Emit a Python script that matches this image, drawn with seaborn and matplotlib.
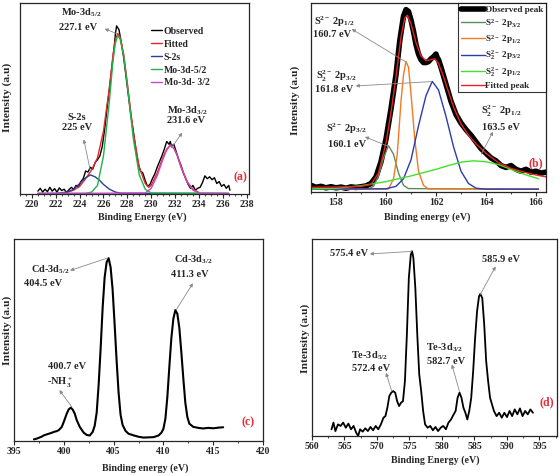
import matplotlib
matplotlib.use('Agg')
import matplotlib.pyplot as plt
import seaborn as sns

# Panel (a): Mo-3d / S-2s region
a_obs_x = [220.5, 220.7, 220.9, 221.1, 221.3, 221.5, 221.7, 221.9, 222.1, 222.3, 222.5, 222.7, 222.9, 223.1,
           223.3, 223.5, 223.7, 223.9, 224.1, 224.3, 224.5, 224.7, 224.9, 225.1, 225.3, 225.5, 225.7, 225.9,
           226.1, 226.3, 226.5, 226.7, 226.9, 227.0, 227.1, 227.2, 227.3, 227.5, 227.7, 227.9, 228.1, 228.3,
           228.5, 228.7, 228.9, 229.1, 229.3, 229.5, 229.7, 229.9, 230.1, 230.3, 230.5, 230.7, 230.9, 231.1,
           231.3, 231.5, 231.6, 231.7, 231.9, 232.1, 232.3, 232.5, 232.7, 232.9, 233.1, 233.3, 233.5, 233.7,
           233.9, 234.1, 234.3, 234.5, 234.7, 234.9, 235.1, 235.3, 235.5, 235.7, 235.9, 236.1, 236.3, 236.5, 236.6]
a_obs_y = [1.5, 3, 1, 2.5, 1.2, 3.5, 1.5, 2.8, 1, 3.2, 1.8, 2.5, 0.8, 2.2,
           3.5, 2.5, 4.5, 3.8, 6.5, 8, 12, 11.5, 14, 13, 16.5, 18, 20, 25,
           34, 45, 55, 66, 77, 84, 88, 87, 86, 79, 71, 61, 51, 41,
           33, 24, 16, 12, 11, 7, 4, 5, 8, 10.5, 14, 17, 20, 23.5,
           27.5, 26, 27.5, 25, 26, 22, 18, 15, 11, 8, 5, 3, 4.5, 2,
           3, 3.5, 6, 9.5, 8, 9, 7.5, 8.5, 5.5, 6.5, 4, 5, 3, 4.5, 2]
a_fit_x = [223.0, 223.5, 224.0, 224.5, 225.0, 225.5, 226.0, 226.5, 226.8, 227.0, 227.2, 227.4, 227.7, 228.0,
           228.5, 229.0, 229.5, 229.8, 230.0, 230.5, 231.0, 231.3, 231.6, 231.9, 232.2, 232.5, 233.0, 233.5, 234.0]
a_fit_y = [1, 2, 4, 8, 12.5, 19, 33, 56, 73, 81, 84, 82, 73, 58,
           32, 14, 5.5, 3.5, 4.5, 11, 19.5, 23.5, 25.5, 24, 20, 14, 6.5, 2.5, 0.8]
a_s2s_x = [220.5, 222.0, 223.0, 223.5, 224.0, 224.5, 224.9, 225.3, 225.7, 226.0, 226.5, 227.0, 227.5, 236.5]
a_s2s_y = [0.3, 0.3, 1, 2.5, 5.5, 8.5, 10, 9, 7, 5, 2.5, 1, 0.4, 0.3]
a_mo52_x = [220.5, 224.5, 225.0, 225.5, 226.0, 226.5, 226.8, 227.0, 227.2, 227.4, 227.7, 228.0, 228.5,
            229.0, 229.5, 230.0, 236.5]
a_mo52_y = [0.3, 0.3, 1, 4.5, 20, 49, 70, 79, 83, 81, 72, 57, 29, 10, 2.5, 0.5, 0.3]
a_mo32_x = [220.5, 229.5, 230.0, 230.5, 231.0, 231.3, 231.6, 231.9, 232.2, 232.5, 233.0, 233.5, 234.0, 236.5]
a_mo32_y = [0.3, 0.5, 3, 9.5, 18.5, 23, 25.5, 24, 20, 14.5, 6.5, 2, 0.5, 0.3]

# Panel (b): S-2p region
b_obs_x = [157.0, 157.2, 157.4, 157.6, 157.8, 158.0, 158.2, 158.4, 158.6, 158.8, 159.0, 159.2, 159.4, 159.6,
           159.8, 160.0, 160.2, 160.4, 160.55, 160.7, 160.8, 160.9, 161.0, 161.1, 161.2, 161.3, 161.4, 161.5,
           161.6, 161.7, 161.8, 161.9, 162.0, 162.05, 162.1, 162.2, 162.4, 162.6, 162.8, 163.0, 163.2, 163.4,
           163.6, 163.8, 164.0, 164.2, 164.4, 164.6, 164.8, 165.0, 165.2, 165.4, 165.6, 165.8, 166.0, 166.2, 166.4]
b_obs_y = [3.5, 2.5, 3, 2.2, 2.8, 2.2, 2.6, 2, 2.7, 2.4, 2.8, 3.2, 4.5, 8,
           16, 28, 44, 62, 80, 93, 96.5, 95.5, 91, 85, 78, 73, 70, 68.5,
           68.5, 69, 70.5, 71.5, 73, 71, 70, 66, 57, 48, 41, 36.5, 33, 30,
           26.5, 23, 20.5, 18, 16.5, 14, 13, 14, 12, 11, 12, 10.5, 11, 10, 10.5]
b_fit_x = [157.0, 158.0, 159.0, 159.4, 159.7, 160.0, 160.2, 160.4, 160.6, 160.75, 160.85, 161.0, 161.2, 161.4,
           161.6, 161.8, 161.95, 162.1, 162.3, 162.5, 162.7, 163.0, 163.3, 163.6, 164.0, 164.5, 165.0, 165.5,
           166.0, 166.4]
b_fit_y = [2.5, 2.6, 3, 4, 10, 26, 42, 61, 82, 92, 93.5, 89, 79, 72,
           69.5, 70, 70.5, 68, 61, 53, 45, 36, 30, 25.5, 20.5, 15.5, 12.5, 10.6, 9, 8]
b_s_p32_x = [157.0, 159.3, 159.5, 159.7, 159.9, 160.1, 160.3, 160.5, 160.7, 160.9, 166.1]
b_s_p32_y = [1.5, 1.6, 3, 8.5, 18, 24.5, 20, 10, 3.5, 1.8, 1.5]
b_s_p12_x = [157.0, 160.1, 160.3, 160.45, 160.6, 160.7, 160.8, 160.9, 161.0, 161.15, 161.3, 161.5, 161.7, 166.1]
b_s_p12_y = [1.5, 1.6, 7, 20, 48, 62, 69, 66, 52, 28, 11, 3.5, 1.6, 1.5]
b_s2_p32_x = [157.0, 160.0, 160.4, 160.7, 161.0, 161.3, 161.6, 161.85, 162.1, 162.4, 162.7, 163.0, 163.3,
              163.6, 164.0, 166.1]
b_s2_p32_y = [1.5, 1.7, 3, 7, 17, 35, 51, 58.5, 54, 40, 24, 11, 4.5, 2, 1.5, 1.5]
b_s2_p12_x = [157.0, 158.0, 159.0, 160.0, 161.0, 162.0, 162.5, 163.0, 163.5, 164.0, 164.5, 165.0, 165.5, 166.1]
b_s2_p12_y = [1.6, 2, 3.3, 5.5, 8.5, 12, 14, 15.8, 16.5, 16, 14.5, 12, 9.5, 7]

# Panel (c): Cd-3d region
c_x = [397.0, 397.3, 397.5, 397.8, 398.0, 398.3, 398.5, 398.8, 399.0, 399.3, 399.5, 399.8, 400.0, 400.3,
       400.5, 400.7, 400.9, 401.1, 401.3, 401.6, 402.0, 402.3, 402.6, 402.9, 403.1, 403.3, 403.5, 403.7,
       403.9, 404.1, 404.3, 404.5, 404.7, 404.9, 405.1, 405.3, 405.5, 405.7, 405.9, 406.2, 406.5, 407.0,
       407.5, 408.0, 408.5, 409.0, 409.5, 409.8, 410.0, 410.2, 410.4, 410.6, 410.8, 411.0, 411.2, 411.4,
       411.6, 411.8, 412.0, 412.2, 412.4, 412.6, 413.0, 413.5, 414.0, 414.5, 415.0, 415.5, 416.0]
c_y = [0.8, 1.2, 1.6, 2.2, 2.8, 3.3, 3.6, 4.1, 4.5, 4.9, 5.4, 7, 9.5, 13.6,
       15.7, 16.5, 15.5, 13.5, 10.3, 7, 4.1, 3, 2.7, 4.5, 7.5, 14, 28, 46,
       66, 81, 88.5, 90.5, 86, 75, 58, 40, 24, 13, 8, 5, 3.6, 2.8,
       2.1, 1.7, 1.8, 1.9, 2.7, 4.1, 6, 11, 22, 37, 51, 60.5, 64.8, 63,
       56, 44, 31, 19, 12, 8.6, 7, 6.5, 6.2, 6.5, 6.3, 6.6, 6.8]

# Panel (d): Te-3d region
d_x = [563.0, 563.3, 563.6, 564.0, 564.4, 564.8, 565.2, 565.6, 566.0, 566.4, 566.8, 567.1, 567.4, 567.8,
       568.2, 568.6, 569.0, 569.4, 569.8, 570.2, 570.6, 571.0, 571.3, 571.6, 571.9, 572.2, 572.5, 572.8,
       573.1, 573.4, 573.7, 574.0, 574.3, 574.6, 574.9, 575.2, 575.4, 575.6, 575.9, 576.2, 576.5, 576.8,
       577.1, 577.4, 577.8, 578.2, 578.6, 579.0, 579.4, 579.8, 580.2, 580.6, 581.0, 581.4, 581.8, 582.1,
       582.4, 582.7, 583.0, 583.3, 583.6, 583.9, 584.2, 584.5, 584.8, 585.1, 585.4, 585.7, 585.9, 586.2,
       586.5, 586.8, 587.1, 587.4, 587.7, 588.0, 588.4, 588.8, 589.2, 589.6, 590.0, 590.4, 590.8, 591.2,
       591.6, 592.0, 592.4, 592.8, 593.2, 593.6, 594.0]
d_y = [3.4, 6.8, 2.5, 5.9, 5.1, 6.8, 4.2, 6.3, 3.4, 5.1, 1.7, 0, 3.4, 2.2,
       3.9, 2.5, 4.6, 2.9, 5.1, 3.4, 5.9, 9.3, 10.1, 14.4, 20.3, 22, 22.8, 22,
       17.7, 15.2, 16.9, 17.7, 27.9, 51.5, 80.2, 92, 93.8, 90.4, 75.2, 51.5, 31.3, 22.8,
       12.7, 5.9, 4.2, 5.1, 2.9, 4.6, 2.5, 4.2, 5.1, 3.4, 6.8, 8.4, 11, 12.7,
       19.4, 22, 19.4, 14.4, 11.8, 8.4, 12.7, 19.4, 32.9, 49.8, 63.3, 70.9, 72.1, 70,
       56.6, 38, 27.9, 19.4, 16, 12.7, 10.1, 11.8, 9.3, 11.8, 9.6, 12.7, 10.1, 13.5,
       11, 14, 10.1, 12.7, 11, 13.5, 11.8]

sns.set_style('ticks')
plt.rcParams['font.family'] = ['Liberation Serif', 'DejaVu Serif']
plt.rcParams['font.weight'] = 'bold'
plt.rcParams['mathtext.fontset'] = 'custom'
plt.rcParams['mathtext.rm'] = 'Liberation Serif:bold'
plt.rcParams['mathtext.it'] = 'Liberation Serif:bold:italic'
plt.rcParams['mathtext.bf'] = 'Liberation Serif:bold'
plt.rcParams['mathtext.default'] = 'bf'

W, H = 560, 476
fig = plt.figure(figsize=(W / 100, H / 100), dpi=100)


def make_ax(l, t, r, b):
    return fig.add_axes([l / W, 1 - b / H, (r - l) / W, (b - t) / H])


def style_ax(ax, xlim, major, minor):
    ax.set_xlim(*xlim)
    ax.set_ylim(0, 100)
    ax.set_yticks([])
    ax.set_xticks([t for t in range(int(xlim[0]) - 1, int(xlim[1]) + 2) if t % major == 0 and xlim[0] <= t <= xlim[1]])
    ax.xaxis.set_minor_locator(matplotlib.ticker.MultipleLocator(minor))
    ax.tick_params(axis='x', which='major', length=3, width=0.8, labelsize=7, pad=1.5)
    ax.tick_params(axis='x', which='minor', length=1.5, width=0.6)
    for lab in ax.get_xticklabels():
        lab.set_fontweight('bold')
    for s in ax.spines.values():
        s.set_linewidth(0.9)
        s.set_visible(True)
    ax.set_xlabel('')
    ax.set_ylabel('')


def note(ax, xy, xytext, lines):
    ax.annotate('', xy=xytext, xytext=xy,
                arrowprops=dict(arrowstyle='-|>', color='#8a8a8a', lw=0.6, mutation_scale=5,
                                shrinkA=0, shrinkB=0))
    for (tx, ty, s) in lines:
        ax.text(tx, ty, s, fontsize=7.5, fontweight='bold', ha='center', va='center')


# ---------- (a)
ax = make_ax(20, 3, 249, 194)
sns.lineplot(x=a_obs_x, y=a_obs_y, ax=ax, color='black', lw=1.0, label='Observed')
sns.lineplot(x=a_fit_x, y=a_fit_y, ax=ax, color='#e8262a', lw=1.0, label='Fitted')
sns.lineplot(x=a_s2s_x, y=a_s2s_y, ax=ax, color='#2e3d9e', lw=1.0, label='S-2s')
sns.lineplot(x=a_mo52_x, y=a_mo52_y, ax=ax, color='#22b24c', lw=1.0, label='Mo-3d-5/2')
sns.lineplot(x=a_mo32_x, y=a_mo32_y, ax=ax, color='#c44ac4', lw=1.0, label='Mo-3d- 3/2')
style_ax(ax, (219, 238.2), 2, 0.5)
ax.legend(loc='upper left', bbox_to_anchor=(0.57, 0.875), frameon=False,
          handlelength=1.2, handletextpad=0.15, labelspacing=0.4, borderpad=0, borderaxespad=0,
          prop={'weight': 'bold', 'size': 7})
note(ax, (227.1, 84), (226.1, 86.5), [(224.1, 94.7, 'Mo-3d$_{5/2}$'), (223.9, 87.4, '227.1 eV')])
note(ax, (224.9, 12), (224.35, 28.6), [(223.8, 40, 'S-2s'), (223.8, 34.7, '225 eV')])
note(ax, (231.7, 24.2), (232.6, 32.1), [(233.0, 43.5, 'Mo-3d$_{3/2}$'), (232.9, 38.6, '231.6 eV')])
ax.text(237.5, 9, '(a)', color='#e0303a', fontsize=8.5, fontweight='bold', ha='center', va='center')

# ---------- (b)
ax = make_ax(311, 3, 546, 192)
sns.lineplot(x=b_obs_x, y=b_obs_y, ax=ax, color='black', lw=4.0, label='Observed peak')
sns.lineplot(x=b_s_p32_x, y=b_s_p32_y, ax=ax, color='#5f8c5a', lw=1.0, label='S$^{2-}$ 2p$_{3/2}$')
sns.lineplot(x=b_s_p12_x, y=b_s_p12_y, ax=ax, color='#f27b22', lw=1.0, label='S$^{2-}$ 2p$_{1/2}$')
sns.lineplot(x=b_s2_p32_x, y=b_s2_p32_y, ax=ax, color='#2b3bb0', lw=1.0, label='S$_2^{2-}$ 2p$_{3/2}$')
sns.lineplot(x=b_s2_p12_x, y=b_s2_p12_y, ax=ax, color='#44e02a', lw=1.0, label='S$_2^{2-}$ 2p$_{1/2}$')
sns.lineplot(x=b_fit_x, y=b_fit_y, ax=ax, color='#e82424', lw=1.0, label='Fitted peak')
style_ax(ax, (157, 166.4), 2, 1)
leg = ax.legend(loc='upper right', bbox_to_anchor=(1.0, 1.0), frameon=True, fancybox=False,
                handlelength=2.6, handletextpad=0.1, labelspacing=0.32, borderpad=0.25, borderaxespad=0,
                prop={'weight': 'bold', 'size': 6.6})
leg.get_frame().set_edgecolor('black')
leg.get_frame().set_linewidth(0.8)
note(ax, (160.77, 69), (158.63, 86.2), [(157.95, 90.3, 'S$^{2-}$ 2p$_{1/2}$'), (157.85, 83.2, '160.7 eV')])
note(ax, (161.8, 58.4), (158.79, 56.1), [(158.0, 61.4, 'S$_2^{2-}$ 2p$_{3/2}$'), (157.92, 54, '161.8 eV')])
note(ax, (160.13, 23.9), (159.16, 29.2), [(158.4, 33.6, 'S$^{2-}$ 2p$_{3/2}$'), (158.46, 25.3, '160.1 eV')])
note(ax, (163.81, 20), (164.28, 31.9), [(164.6, 42.5, 'S$_2^{2-}$ 2p$_{1/2}$'), (164.6, 34.2, '163.5 eV')])
ax.text(166.0, 15, '(b)', color='#e0303a', fontsize=8.5, fontweight='bold', ha='center', va='center')

# ---------- (c)
ax = make_ax(14, 239, 263, 441)
sns.lineplot(x=c_x, y=c_y, ax=ax, color='black', lw=1.5)
style_ax(ax, (395, 420), 5, 2.5)
note(ax, (404.4, 90.6), (400.63, 84.4), [(398.62, 84.8, 'Cd-3d$_{5/2}$'), (397.95, 78.1, '404.5 eV')])
note(ax, (411.28, 64.9), (412.96, 78.1), [(413.02, 89.7, 'Cd-3d$_{3/2}$'), (412.69, 82.3, '411.3 eV')])
note(ax, (400.8, 16.9), (399.56, 25.2), [(400.29, 36.8, '400.7 eV'), (399.62, 29, '-NH$_3^+$')])
ax.text(418.55, 9.4, '(c)', color='#e0303a', fontsize=8.5, fontweight='bold', ha='center', va='center')

# ---------- (d)
ax = make_ax(312, 239, 557, 436)
sns.lineplot(x=d_x, y=d_y, ax=ax, color='black', lw=1.3)
style_ax(ax, (560, 597.7), 5, 2.5)
note(ax, (575.3, 93.7), (568.9, 92.4), [(565.73, 92.4, '575.4 eV')])
note(ax, (585.89, 71.8), (588.25, 86.1), [(589.13, 89.5, '585.9 eV')])
note(ax, (572.26, 22.8), (571.39, 32.1), [(568.81, 40.5, 'Te-3d$_{5/2}$'), (569.07, 34.3, '572.4 eV')])
note(ax, (582.7, 22.5), (581.52, 36.3), [(580.39, 44.8, 'Te-3d$_{3/2}$'), (580.65, 37.7, '582.7 eV')])
ax.text(596.08, 16.9, '(d)', color='#e0303a', fontsize=8.5, fontweight='bold', ha='center', va='center')

# axis titles
xl = dict(fontsize=7.2, fontweight='bold', ha='center', va='center')
yl = dict(fontsize=8.2, fontweight='bold', ha='center', va='center', rotation=90)
fig.text(142 / W, 1 - 217 / H, 'Binding Energy (eV)', **xl)
fig.text(427 / W, 1 - 217 / H, 'Binding energy (eV)', **xl)
fig.text(145 / W, 1 - 468 / H, 'Binding energy (eV)', **xl)
fig.text(435 / W, 1 - 460 / H, 'Binding Energy (eV)', **xl)
fig.text(7 / W, 1 - 97 / H, 'Intensity (a.u)', **yl)
fig.text(295 / W, 1 - 100 / H, 'Intensity (a.u)', **yl)
fig.text(7 / W, 1 - 330 / H, 'Intensity (a.u)', **yl)
fig.text(305 / W, 1 - 338 / H, 'Intensity (a.u)', **yl)

fig.savefig('out.png', dpi=100)
